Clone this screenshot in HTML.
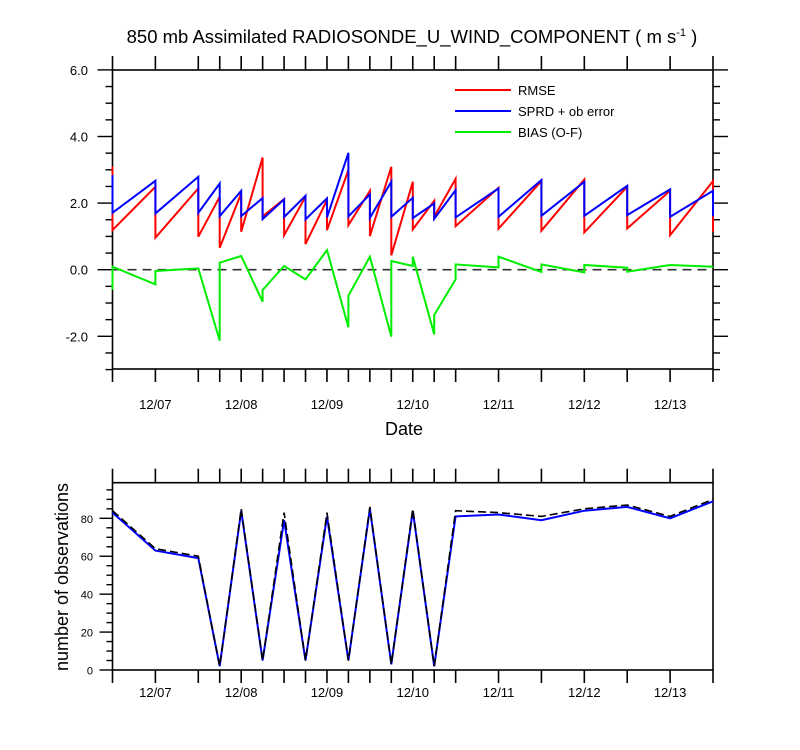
<!DOCTYPE html>
<html><head><meta charset="utf-8"><style>
html,body{margin:0;padding:0;background:#fff}
svg{display:block;font-family:"Liberation Sans",sans-serif}
</style></head><body>
<svg id="c" width="800" height="750" xmlns="http://www.w3.org/2000/svg"></svg>
<script>
const hours=[0,12,24,30,36,42,48,54,60,66,72,78,84,90,96,108,120,132,144,156,168];
const dateLabels=["12/07","12/08","12/09","12/10","12/11","12/12","12/13"];
const dateHours=[12,36,60,84,108,132,156];
const rmseF=[3.1,2.49,2.44,2.19,2.29,3.37,2.12,2.19,2.09,2.99,2.37,3.09,2.64,2.07,2.73,2.46,2.66,2.71,2.49,2.37,2.66];
const rmseA=[1.19,0.96,0.99,0.66,1.14,1.6,1.04,0.77,1.19,1.34,1.01,0.43,1.21,1.59,1.31,1.23,1.17,1.12,1.24,1.04,1.14];
const sprdF=[2.84,2.67,2.79,2.59,2.37,2.15,2.11,2.22,2.14,3.51,2.26,2.64,2.16,1.99,2.39,2.44,2.69,2.64,2.52,2.41,2.37];
const sprdA=[1.71,1.69,1.71,1.61,1.61,1.52,1.58,1.51,1.57,1.6,1.56,1.59,1.55,1.53,1.57,1.59,1.62,1.62,1.64,1.59,1.6];
const biasF=[-0.6,-0.44,0.04,-2.13,0.41,-0.96,0.11,-0.29,0.59,-1.73,0.39,-2.01,0.11,-1.94,-0.29,0.07,-0.07,-0.08,0.06,0.14,0.09];
const biasA=[0.09,-0.04,0.04,0.21,0.41,-0.61,0.11,-0.29,0.59,-0.78,0.39,0.26,0.39,-1.36,0.16,0.39,0.16,0.14,-0.06,0.14,0.09];
const yTicksTop=[-2,0,2,4,6];
const yTickLabelsTop=["-2.0","0.0","2.0","4.0","6.0"];
const obsUsed=[83,63,59,2,84,5,79,5,81,5,85,3,84,2,81,82,79,84,86,80,89];
const obsPossible=[84,64,60,2,85,5,83,5,83,5,86,3,85,2,84,83,81,85,87,81,90];
const yTicksBot=[0,20,40,60,80];

const S="http://www.w3.org/2000/svg", svg=document.getElementById('c');
function el(t,a,p){const e=document.createElementNS(S,t);for(const k in a)e.setAttribute(k,a[k]);(p||svg).appendChild(e);return e;}
const L=112.5,R=713;
const x=h=>L+(R-L)*h/168;
const yT=v=>269.7-33.3*v;
const yB=v=>670-1.896*v;

let t=el('text',{x:412,y:43,'text-anchor':'middle','font-size':18.5});

t.innerHTML='850 mb Assimilated RADIOSONDE_U_WIND_COMPONENT ( m s<tspan dy="-7" font-size="11">-1</tspan><tspan dy="7"> )</tspan>';

function frame(top,bot,name,labOff){
  const g=el('g',{});
  
  el('rect',{x:L,y:top,width:R-L,height:bot-top,fill:'none',stroke:'#000','stroke-width':1.6},g);
  hours.forEach(h=>{
    el('line',{x1:x(h),x2:x(h),y1:top,y2:top-14,stroke:'#000','stroke-width':1.6},g);
    el('line',{x1:x(h),x2:x(h),y1:bot,y2:bot+13,stroke:'#000','stroke-width':1.6},g);
  });
  dateHours.forEach((h,i)=>{
    const tx=el('text',{x:x(h),y:bot+labOff,'text-anchor':'middle','font-size':13},g);
    
    tx.textContent=dateLabels[i];
  });
  return g;
}
const gt=frame(70,369,'top-panel',40);
for(let v=-3;v<=6.001;v+=0.5){
  const maj=Math.abs(v-Math.round(v/2)*2)<1e-6;
  const len=maj?15:7;
  el('line',{x1:L,x2:L-len,y1:yT(v),y2:yT(v),stroke:'#000','stroke-width':1.4},gt);
  el('line',{x1:R,x2:R+len,y1:yT(v),y2:yT(v),stroke:'#000','stroke-width':1.4},gt);
}
yTicksTop.forEach((v,i)=>{
  const tx=el('text',{x:88,y:yT(v)+5,'text-anchor':'end','font-size':13},gt);
  
  tx.textContent=yTickLabelsTop[i];
});
let xl=el('text',{x:404,y:435,'text-anchor':'middle','font-size':18});

xl.textContent='Date';

let zl=el('line',{x1:L,x2:R,y1:yT(0),y2:yT(0),stroke:'#333','stroke-width':1.6,'stroke-dasharray':'9,6'});


function saw(F,A,yf){
  let d='';
  hours.forEach((h,i)=>{
    d+=(i?'L':'M')+x(h).toFixed(1)+','+yf(F[i]).toFixed(1)+'L'+x(h).toFixed(1)+','+yf(A[i]).toFixed(1);
  });
  return d;
}
[[biasF,biasA,'#00ee00','bias-line'],[rmseF,rmseA,'#ff0000','rmse-line'],[sprdF,sprdA,'#0000ff','sprd-line']].forEach(s=>{
  const p=el('path',{d:saw(s[0],s[1],yT),fill:'none',stroke:s[2],'stroke-width':2,'stroke-linejoin':'miter'});
  
});
const leg=el('g',{});

[['RMSE','#ff0000',90],['SPRD + ob error','#0000ff',111],['BIAS (O-F)','#00ee00',132]].forEach(e=>{
  const g=el('g',{},leg);
  
  el('line',{x1:455,x2:511,y1:e[2],y2:e[2],stroke:e[1],'stroke-width':2},g);
  const tx=el('text',{x:518,y:e[2]+5,'font-size':13},g);tx.textContent=e[0];
});

const gb=frame(482.7,670,'bottom-panel',27);
for(let v=0;v<=95;v+=5){
  const len=v%20===0?13:6;
  el('line',{x1:L,x2:L-len,y1:yB(v),y2:yB(v),stroke:'#000','stroke-width':1.4},gb);
}
yTicksBot.forEach(v=>{
  const tx=el('text',{x:93,y:yB(v)+4.5,'text-anchor':'end','font-size':11},gb);
  
  tx.textContent=v;
});
let yl=el('text',{x:0,y:0,'text-anchor':'middle','font-size':18,transform:'translate(68,577) rotate(-90)'});

yl.textContent='number of observations';
function line(vals,yf){return vals.map((v,i)=>(i?'L':'M')+x(hours[i]).toFixed(1)+','+yf(v).toFixed(1)).join('');}
let pu=el('path',{d:line(obsUsed,yB),fill:'none',stroke:'#0000ff','stroke-width':2});

let pp=el('path',{d:line(obsPossible,yB),fill:'none',stroke:'#000','stroke-width':1.6,'stroke-dasharray':'8,4'});

</script>
</body></html>
